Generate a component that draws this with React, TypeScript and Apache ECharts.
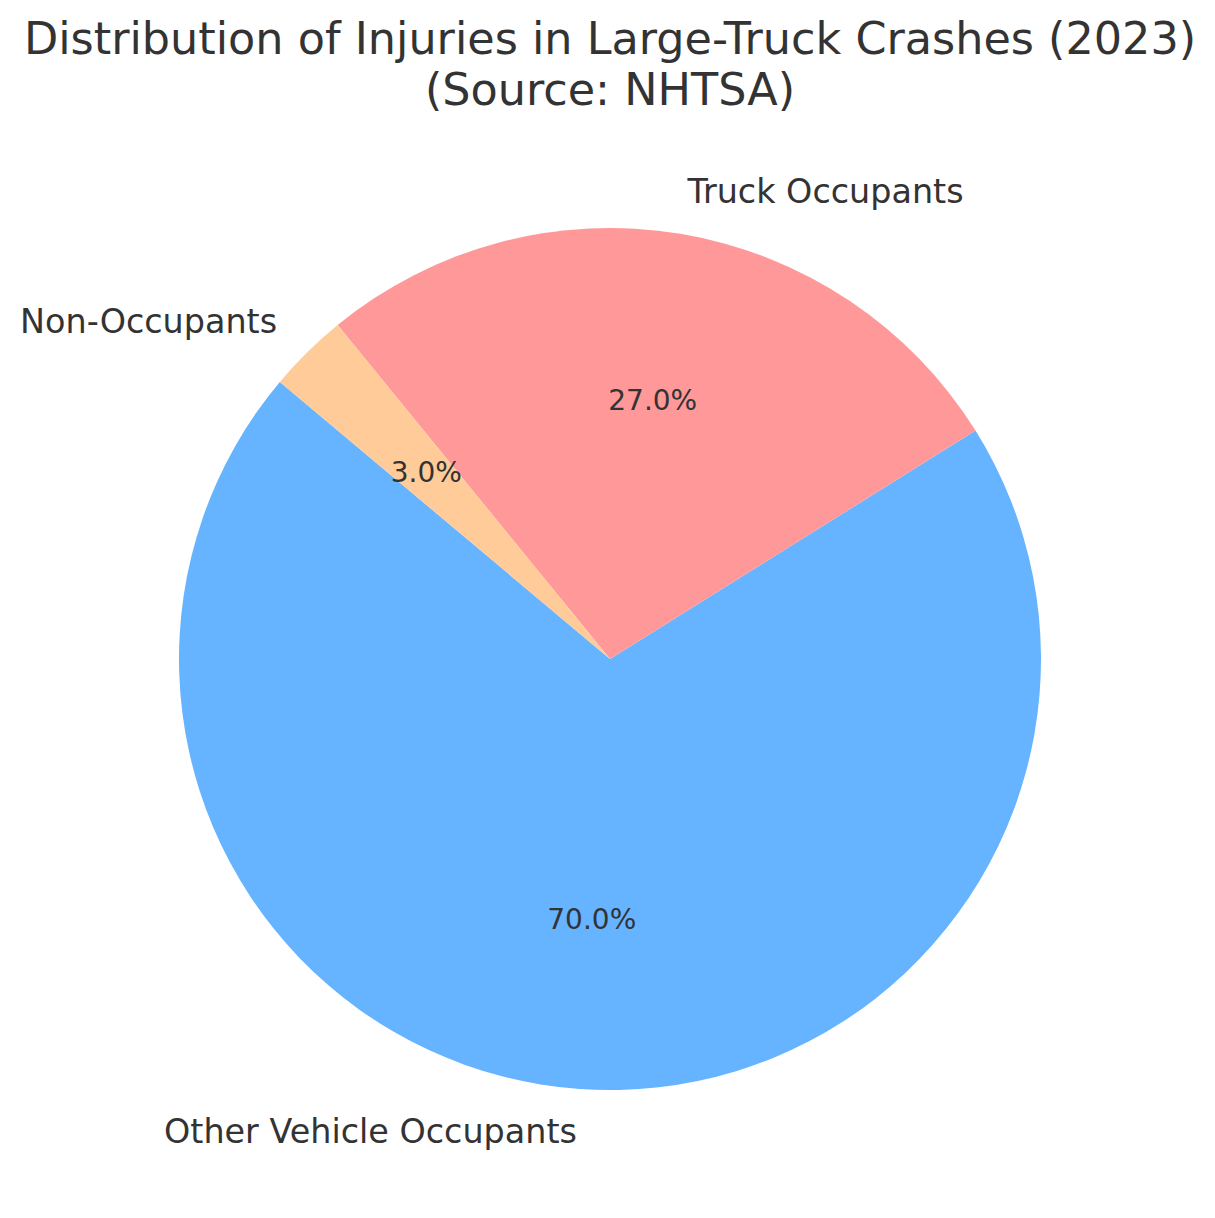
import { useEffect, useRef } from 'react';
import * as echarts from 'echarts';

const categories = ['Other Vehicle Occupants', 'Truck Occupants', 'Non-Occupants'];
const shares = [70, 27, 3];
const colors = ['#66b3ff', '#ff9999', '#ffcc99'];

const TEXT = '#333333';
const FONT = 'DejaVu Sans';
const R = 431;

export default function App() {
  const ref = useRef<HTMLDivElement>(null);

  useEffect(() => {
    document.body.style.margin = '0';
    if (!ref.current) return;
    const chart = echarts.init(ref.current, null, { renderer: 'svg' });
    const data = categories.map((name, i) => ({
      name,
      value: shares[i],
      itemStyle: { color: colors[i] },
    }));

    chart.setOption({
      animation: false,
      backgroundColor: '#ffffff',
      title: {
        text: 'Distribution of Injuries in Large-Truck Crashes (2023)\n(Source: NHTSA)',
        left: 605,
        top: 8,
        textAlign: 'center',
        textStyle: {
          color: TEXT,
          fontFamily: FONT,
          fontSize: 44.5,
          fontWeight: 'normal',
          lineHeight: 51,
        },
      },
      series: [
        {
          type: 'pie',
          center: [610, 659],
          radius: [0, R],
          startAngle: 140,
          clockwise: false,
          avoidLabelOverlap: false,
          silent: true,
          data,
          label: {
            show: true,
            position: 'outside',
            color: TEXT,
            fontFamily: FONT,
            fontSize: 33.4,
            distanceToLabelLine: 0,
            formatter: '{b}',
          },
          labelLine: { show: false, length: R * 0.1, length2: 0 },
        },
        {
          type: 'pie',
          center: [610, 659],
          radius: [R * 0.2, R],
          startAngle: 140,
          clockwise: false,
          silent: true,
          data: categories.map((name, i) => ({ name, value: shares[i] })),
          itemStyle: { color: 'rgba(0,0,0,0)' },
          label: {
            show: true,
            position: 'inside',
            color: TEXT,
            fontFamily: FONT,
            fontSize: 28,
            formatter: (p: any) => p.value.toFixed(1) + '%',
          },
          labelLine: { show: false },
        },
      ],
    });

    return () => chart.dispose();
  }, []);

  return <div ref={ref} style={{ width: 1215, height: 1218 }} />;
}
